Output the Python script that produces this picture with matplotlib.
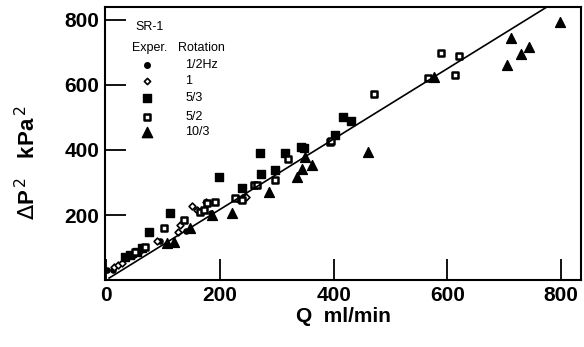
import matplotlib
matplotlib.use("Agg")
import matplotlib.pyplot as plt

plt.rcParams['font.family'] = ['Liberation Sans', 'DejaVu Sans']

# data (Q ml/min, dP^2 kPa^2)
q_half = [2, 12, 48, 95, 140, 185, 240]
p_half = [31, 30, 78, 120, 150, 205, 255]

q_one = [14, 21, 28, 60, 90, 126, 130, 151, 160, 175, 232, 245]
p_one = [40, 46, 52, 90, 120, 148, 169, 228, 215, 240, 250, 255]

q_53 = [33, 42, 54, 63, 75, 112, 198, 239, 270, 272, 296, 314, 342, 347, 402, 416, 430]
p_53 = [71, 77, 86, 98, 148, 206, 317, 283, 391, 326, 338, 391, 409, 406, 446, 502, 489]

q_52 = [51, 68, 102, 137, 165, 172, 177, 191, 226, 239, 260, 265, 296, 319, 393, 395, 471, 565, 588, 614, 621]
p_52 = [86, 102, 160, 185, 209, 215, 237, 240, 252, 246, 292, 292, 308, 372, 425, 428, 572, 621, 698, 631, 690]

q_103 = [107, 119, 147, 186, 221, 286, 335, 344, 349, 361, 460, 577, 705, 712, 730, 744, 798]
p_103 = [114, 117, 160, 200, 206, 271, 317, 341, 378, 354, 394, 625, 662, 745, 695, 717, 794]

fit_q = [5, 775]
fit_p = [6, 840]

fig = plt.figure(figsize=(5.84, 3.47), dpi=100)
ax = fig.add_axes([0.180, 0.193, 0.815, 0.787])

ax.plot(fit_q, fit_p, color='black', lw=1.2)
ax.scatter(q_half, p_half, marker='o', s=14, c='black')
ax.scatter(q_one, p_one, marker='D', s=12, facecolors='white', edgecolors='black', linewidths=1.2)
ax.scatter(q_53, p_53, marker='s', s=28, c='black')
ax.scatter(q_52, p_52, marker='s', s=22, facecolors='white', edgecolors='black', linewidths=1.8)
ax.scatter(q_103, p_103, marker='^', s=50, c='black')

ax.set_xlim(-2, 835)
ax.set_ylim(0, 840)
ax.set_xticks([0, 200, 400, 600, 800])
ax.set_yticks([200, 400, 600, 800])
ax.tick_params(direction='in', length=15, width=1.3, labelsize=15, pad=4)
for lab in ax.get_xticklabels() + ax.get_yticklabels():
    lab.set_fontweight('bold')
for s in ax.spines.values():
    s.set_linewidth(1.5)

ax.set_xlabel('Q  ml/min', fontsize=15, fontweight='bold', labelpad=2)
ax.set_ylabel(r'$\Delta$P$^{\,2}$   kPa$^{\,2}$', fontsize=16, fontweight='bold')
ax.yaxis.set_label_coords(-0.137, 0.43)

# legend block drawn as text + markers
fs = 9
ax.text(0.063, 0.927, 'SR-1', transform=ax.transAxes, fontsize=fs, va='center')
ax.text(0.057, 0.850, 'Exper.', transform=ax.transAxes, fontsize=fs, va='center')
ax.text(0.153, 0.850, 'Rotation', transform=ax.transAxes, fontsize=fs, va='center')
leg_y = [0.788, 0.729, 0.667, 0.597, 0.542]
leg_lab = ['1/2Hz', '1', '5/3', '5/2', '10/3']
leg_style = [dict(marker='o', s=16, c='black'),
             dict(marker='D', s=10, facecolors='white', edgecolors='black', linewidths=1.2),
             dict(marker='s', s=30, c='black'),
             dict(marker='s', s=20, facecolors='white', edgecolors='black', linewidths=1.8),
             dict(marker='^', s=55, c='black')]
for y, lab, st in zip(leg_y, leg_lab, leg_style):
    ax.scatter([0.088], [y], transform=ax.transAxes, **st)
    ax.text(0.168, y, lab, transform=ax.transAxes, fontsize=fs, va='center')

fig.savefig('out.png', dpi=100)
